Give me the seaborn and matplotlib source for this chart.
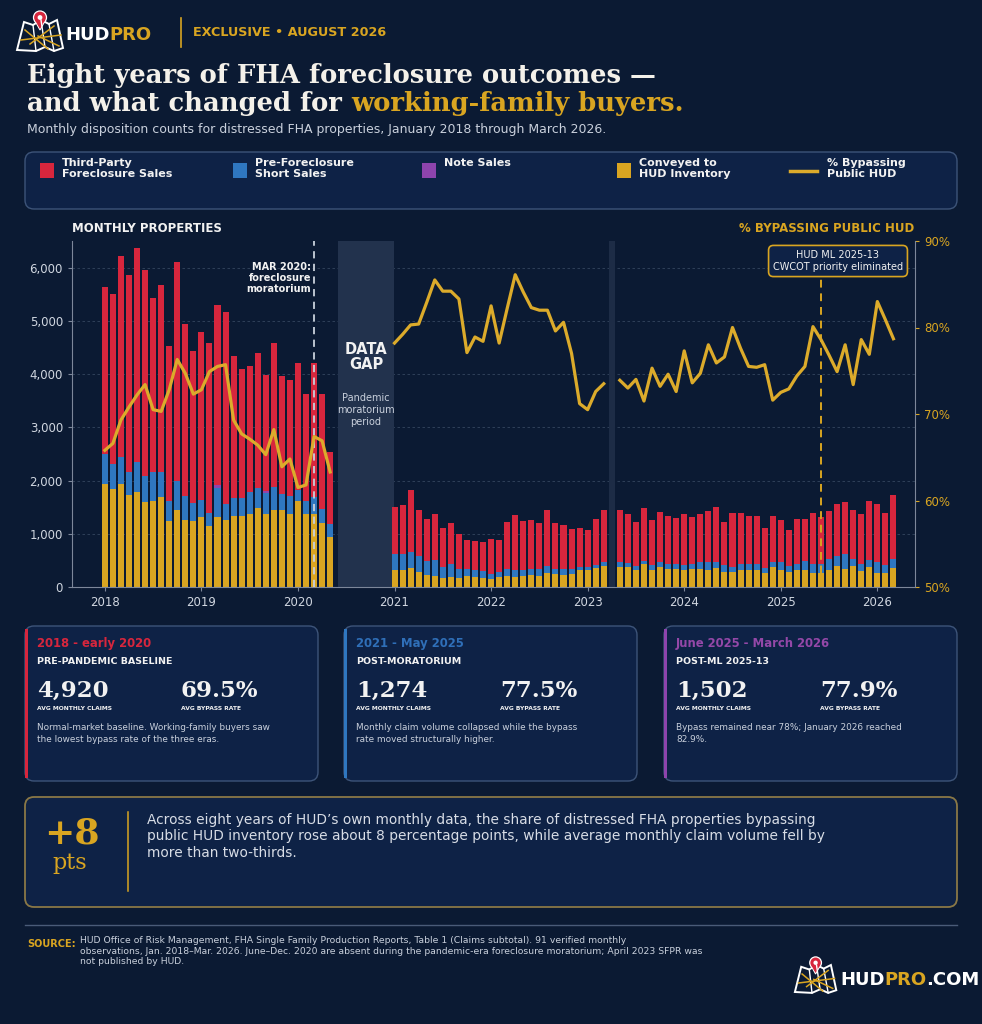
import numpy as np
import pandas as pd
import matplotlib
matplotlib.use("Agg")
import matplotlib.pyplot as plt
import seaborn as sns
from matplotlib.patches import FancyBboxPatch, Rectangle, Polygon, Circle
from matplotlib.lines import Line2D

# months that were published (Jun-Dec 2020 and Apr 2023 missing)
segments = [("2018-01", "2020-05"), ("2021-01", "2023-03"), ("2023-05", "2026-03")]

conveyed = [1940, 1845, 1935, 1720, 1780, 1595, 1615, 1690, 1240, 1450, 1265, 1240, 1310, 1155,
            1310, 1265, 1330, 1330, 1370, 1480, 1380, 1455, 1440, 1380, 1625, 1375, 1375, 1205, 930,
            325, 315, 365, 280, 225, 200, 175, 190, 165, 200, 190, 175, 155, 190, 215, 190, 200,
            225, 215, 265, 240, 225, 250, 315, 315, 350, 390,
            380, 380, 315, 425, 315, 380, 345, 345, 325, 345, 345, 315, 355, 280, 280, 315, 315,
            325, 270, 375, 325, 280, 315, 315, 270, 270, 325, 390, 345, 390, 300, 375, 270, 270, 365]
pre_foreclosure = [560, 470, 515, 435, 565, 485, 540, 465, 375, 550, 440, 335, 325, 230,
                   555, 285, 345, 340, 410, 375, 390, 430, 310, 330, 200, 250, 315, 260, 245,
                   300, 300, 285, 295, 265, 300, 200, 235, 180, 145, 125, 125, 95, 90, 130, 125,
                   115, 120, 130, 125, 105, 120, 80, 60, 55, 55, 80,
                   90, 80, 85, 65, 90, 85, 95, 95, 80, 95, 120, 150, 115, 125, 95, 110, 110,
                   100, 95, 95, 140, 120, 125, 170, 170, 170, 195, 195, 280, 145, 125, 125, 200, 135, 155]
note_sales = [0] * 14 + [60] + [0] * 5 + [30] + [0] * 8 + [0] * 27 + [0] * 35
third_party = [3140, 3185, 3770, 3700, 4020, 3875, 3275, 3515, 2920, 4105, 3240, 2865, 3160, 3205,
               3380, 3625, 2665, 2420, 2375, 2545, 2190, 2700, 2215, 2180, 2375, 1995, 2520, 2160, 1370,
               875, 920, 1175, 865, 795, 875, 740, 775, 655, 530, 550, 550, 655, 595, 870, 1045,
               925, 905, 850, 1060, 860, 820, 755, 730, 695, 880, 980,
               970, 910, 820, 1000, 845, 945, 885, 860, 970, 875, 900, 955, 1030, 825, 1020, 970,
               900, 905, 750, 860, 785, 680, 830, 790, 955, 875, 900, 965, 970, 920, 940, 1115,
               1095, 990, 1205]
bypass_pct = [65.8, 66.6, 69.3, 70.8, 72.2, 73.4, 70.5, 70.3, 72.8, 76.3, 74.7, 72.3, 72.8, 74.9,
              75.5, 75.7, 69.3, 67.7, 67.1, 66.4, 65.3, 68.2, 63.9, 64.8, 61.5, 61.8, 67.4, 66.9, 63.3,
              78.2, 79.2, 80.3, 80.4, 82.9, 85.5, 84.2, 84.2, 83.3, 77.1, 78.9, 78.4, 82.5, 78.2,
              82.2, 86.1, 84.1, 82.3, 82.0, 82.0, 79.6, 80.6, 77.0, 71.2, 70.5, 72.6, 73.5,
              73.9, 73.0, 74.0, 71.5, 75.3, 73.2, 74.6, 72.6, 77.3, 73.6, 74.7, 78.0, 75.9, 76.6,
              80.0, 77.6, 75.5, 75.4, 75.7, 71.6, 72.5, 72.9, 74.4, 75.5, 80.1, 78.6, 76.8, 74.9,
              78.0, 73.4, 78.6, 76.9, 83.0, 80.9, 78.7]

year_ticks = list(range(2018, 2027))
left_ticks = [0, 1000, 2000, 3000, 4000, 5000, 6000]
right_ticks = [50, 60, 70, 80, 90]
moratorium = 2020 + 2 / 12      # Mar 2020
ml_2025_13 = 2025 + 5 / 12      # Jun 2025
gap_2020 = (2020.41, 2020.99)
gap_2023 = (2023.22, 2023.28)

BG = "#0b1a33"
PANEL = "#0e2246"
EDGE = "#3d5479"
RED = "#d7263d"
BLUE = "#2f77c0"
PURPLE = "#8e44ad"
GOLD = "#d9a521"
LINE = "#dcab2b"
WHITE = "#f2f2f2"
LIGHT = "#c9d0dc"
TICK = "#d0d6e0"

plt.rcParams["font.family"] = ["DejaVu Sans"]

rows = []
for seg, (a, b) in enumerate(segments):
    for d in pd.date_range(a, b, freq="MS"):
        rows.append((seg, d))
df = pd.DataFrame(rows, columns=["seg", "date"])
df["x"] = df["date"].dt.year + (df["date"].dt.month - 1) / 12
df["conv"] = conveyed
df["pre"] = df["conv"] + np.array(pre_foreclosure)
df["note"] = df["pre"] + np.array(note_sales)
df["total"] = df["note"] + np.array(third_party)
df["pct"] = bypass_pct

fig = plt.figure(figsize=(9.82, 10.24), dpi=100, facecolor=BG)

# chart
ax = fig.add_axes([72 / 982, (1024 - 587) / 1024, 843 / 982, 346 / 1024])
ax.set_facecolor("none")
for col, c in [("total", RED), ("note", PURPLE), ("pre", BLUE), ("conv", GOLD)]:
    sns.barplot(data=df, x="x", y=col, native_scale=True, width=0.75, color=c,
                saturation=1, errorbar=None, linewidth=0, ax=ax, zorder=2)
ax.axvspan(*gap_2020, color="#22324d", lw=0, zorder=1)
ax.axvspan(*gap_2023, color="#1d2c46", lw=0, zorder=1)
ax.axvline(moratorium, color="#c9d1dc", ls=(0, (4, 3)), lw=1.3, zorder=4)
ax.axvline(ml_2025_13, ymax=(587 - 276) / 346, color=GOLD, ls=(0, (4, 3)), lw=1.4, zorder=4)

ax.set_xlim(2017.66, 2026.39)
ax.set_ylim(0, 6500)
ax.set_xticks(year_ticks)
ax.set_xticklabels([str(y) for y in year_ticks])
ax.set_yticks(left_ticks)
ax.set_yticklabels([f"{v:,}" for v in left_ticks])
ax.yaxis.grid(True, color="#34465f", ls=(0, (3, 3)), lw=0.6)
ax.set_axisbelow(True)
ax.tick_params(colors="#7d879a", labelcolor=TICK, labelsize=8.5, length=3)
ax.set_xlabel("")
ax.set_ylabel("")
for s in ["top", "right"]:
    ax.spines[s].set_visible(False)
for s in ["left", "bottom"]:
    ax.spines[s].set_color("#7d879a")

ax2 = ax.twinx()
sns.lineplot(data=df, x="x", y="pct", units="seg", estimator=None, color=LINE, lw=2.3,
             ax=ax2, legend=False)
ax2.set_ylim(50, 90)
ax2.set_yticks(right_ticks)
ax2.set_yticklabels([f"{v}%" for v in right_ticks])
ax2.tick_params(axis="y", colors=GOLD, labelcolor=GOLD, labelsize=8.5, length=3)
ax2.set_ylabel("")
ax2.set_xlabel("")
for s in ["top", "left", "bottom"]:
    ax2.spines[s].set_visible(False)
ax2.spines["right"].set_color("#7d879a")
ax2.set_xlim(2017.66, 2026.39)

# overlay in pixel coordinates
ov = fig.add_axes([0, 0, 1, 1], zorder=10)
ov.set_xlim(0, 982)
ov.set_ylim(1024, 0)
ov.axis("off")
ov.patch.set_alpha(0)
rend = fig.canvas.get_renderer()


def seq_text(x, y, parts, **kw):
    for s, c in parts:
        t = ov.text(x, y, s, color=c, **kw)
        x += t.get_window_extent(renderer=rend).width


def panel(x, y, w, h, ec=EDGE, lw=1.0):
    ov.add_patch(FancyBboxPatch((x, y), w, h, boxstyle="round,pad=0,rounding_size=9",
                                fc=PANEL, ec=ec, lw=lw))


def logo(x0, y0, s):
    P = lambda pts: [(x0 + a * s, y0 + b * s) for a, b in pts]
    ov.add_patch(Polygon(P([(1, 40), (8, 12), (17, 15), (25, 10), (33, 14), (41, 10),
                             (47, 38), (38, 41), (29, 37), (20, 41)]),
                         closed=True, fc="none", ec="white", lw=1.4))
    for a, b in [((17, 15), (20, 41)), ((25, 10), (29, 37)), ((33, 14), (38, 41))]:
        ov.plot(*zip(*P([a, b])), color="white", lw=1.0)
    for a, b in [((5, 30), (45, 25)), ((9, 20), (32, 39)), ((38, 16), (14, 34)), ((22, 26), (43, 36))]:
        ov.plot(*zip(*P([a, b])), color=GOLD, lw=1.1)
    ov.add_patch(Polygon(P([(18.5, 10), (29.5, 10), (24, 20)]), fc=RED, ec="white", lw=0.8))
    ov.add_patch(Circle((x0 + 24 * s, y0 + 7.5 * s), 6.5 * s, fc=RED, ec="white", lw=0.9))
    ov.add_patch(Polygon(P([(19.2, 10.5), (28.8, 10.5), (24, 18.5)]), fc=RED, ec="none"))
    ov.add_patch(Circle((x0 + 24 * s, y0 + 7.5 * s), 2.4 * s, fc="white", ec="none"))


# header
logo(16, 10, 1.0)
seq_text(65, 35, [("HUD", "white"), ("PRO", GOLD)], fontsize=13, fontweight="bold", va="center")
ov.plot([181, 181], [18, 47], color=GOLD, lw=1.2)
ov.text(193, 33, "EXCLUSIVE • AUGUST 2026", color=GOLD, fontsize=9.2, fontweight="bold", va="center")
ov.text(27, 75, "Eight years of FHA foreclosure outcomes —", color="#f4f1ea", fontsize=18.6,
        fontweight="bold", family="DejaVu Serif", va="center")
seq_text(27, 104, [("and what changed for ", "#f4f1ea"), ("working-family buyers.", GOLD)],
         fontsize=18.6, fontweight="bold", family="DejaVu Serif", va="center")
ov.text(27, 130, "Monthly disposition counts for distressed FHA properties, January 2018 through March 2026.",
        color=LIGHT, fontsize=9.0, va="center")

# legend panel
panel(25, 152, 932, 57)
legend_items = [(40, RED, "Third-Party\nForeclosure Sales"), (233, BLUE, "Pre-Foreclosure\nShort Sales"),
                (422, PURPLE, "Note Sales"), (617, GOLD, "Conveyed to\nHUD Inventory")]
for x, c, lab in legend_items:
    ov.add_patch(Rectangle((x, 163), 14, 15, fc=c, ec="none"))
    ov.text(x + 22, 158, lab, color=WHITE, fontsize=8, fontweight="bold", va="top", linespacing=1.15)
ov.add_line(Line2D([790, 817], [171, 171], color=LINE, lw=2.5))
ov.text(827, 158, "% Bypassing\nPublic HUD", color=WHITE, fontsize=8, fontweight="bold", va="top",
        linespacing=1.15)

# chart labels
ov.text(72, 229, "MONTHLY PROPERTIES", color=WHITE, fontsize=8.5, fontweight="bold", va="center")
ov.text(914, 229, "% BYPASSING PUBLIC HUD", color=GOLD, fontsize=8.5, fontweight="bold",
        va="center", ha="right")
ov.text(311, 278, "MAR 2020:\nforeclosure\nmoratorium", color=WHITE, fontsize=7, fontweight="bold",
        ha="right", va="center", multialignment="right", linespacing=1.1)
ov.text(366, 357, "DATA\nGAP", color=WHITE, fontsize=10.5, fontweight="bold", ha="center",
        va="center", linespacing=1.05)
ov.text(366, 410, "Pandemic\nmoratorium\nperiod", color=LIGHT, fontsize=7, ha="center", va="center",
        linespacing=1.2)
ov.text(838, 261, "HUD ML 2025-13\nCWCOT priority eliminated", color=WHITE, fontsize=7, ha="center",
        va="center", linespacing=1.3,
        bbox=dict(boxstyle="round,pad=0.45,rounding_size=0.5", fc=PANEL, ec=GOLD, lw=1.2))

# era cards
cards = [
    (25, RED, RED, "2018 - early 2020", "PRE-PANDEMIC BASELINE", "4,920", "69.5%",
     "Normal-market baseline. Working-family buyers saw\nthe lowest bypass rate of the three eras."),
    (344, BLUE, "#2f6fb8", "2021 - May 2025", "POST-MORATORIUM", "1,274", "77.5%",
     "Monthly claim volume collapsed while the bypass\nrate moved structurally higher."),
    (664, PURPLE, "#9448a8", "June 2025 - March 2026", "POST-ML 2025-13", "1,502", "77.9%",
     "Bypass remained near 78%; January 2026 reached\n82.9%."),
]
for x, acc, tc, title, sub, big1, big2, desc in cards:
    panel(x, 626, 293, 155)
    ov.add_patch(Rectangle((x + 0.5, 629), 3, 149, fc=acc, ec="none"))
    ov.text(x + 12, 644, title, color=tc, fontsize=8.4, fontweight="bold", va="center")
    ov.text(x + 12, 662, sub, color=WHITE, fontsize=6.8, fontweight="bold", va="center")
    ov.text(x + 12, 691, big1, color=WHITE, fontsize=16.5, fontweight="bold", family="DejaVu Serif",
            va="center")
    ov.text(x + 156, 691, big2, color=WHITE, fontsize=16.5, fontweight="bold", family="DejaVu Serif",
            va="center")
    ov.text(x + 12, 709, "AVG MONTHLY CLAIMS", color=WHITE, fontsize=4.3, fontweight="bold", va="center")
    ov.text(x + 156, 709, "AVG BYPASS RATE", color=WHITE, fontsize=4.3, fontweight="bold", va="center")
    ov.text(x + 12, 723, desc, color=LIGHT, fontsize=6.4, va="top", linespacing=1.4)

# callout
panel(25, 797, 932, 110, ec="#8a7846", lw=1.3)
ov.text(72, 834, "+8", color=GOLD, fontsize=26, fontweight="bold", family="DejaVu Serif",
        ha="center", va="center")
ov.text(70, 863, "pts", color=GOLD, fontsize=16, family="DejaVu Serif", ha="center", va="center")
ov.plot([128, 128], [812, 891], color=GOLD, lw=1.1)
ov.text(147, 813, "Across eight years of HUD’s own monthly data, the share of distressed FHA properties bypassing\n"
        "public HUD inventory rose about 8 percentage points, while average monthly claim volume fell by\n"
        "more than two-thirds.", color="#d8dde6", fontsize=9.9, va="top", linespacing=1.22)

# source
ov.plot([25, 957], [925, 925], color="#4a5b78", lw=1)
ov.text(27, 944, "SOURCE:", color=GOLD, fontsize=7, fontweight="bold", va="center")
ov.text(80, 936, "HUD Office of Risk Management, FHA Single Family Production Reports, Table 1 (Claims subtotal). 91 verified monthly\n"
        "observations, Jan. 2018–Mar. 2026. June–Dec. 2020 are absent during the pandemic-era foreclosure moratorium; April 2023 SFPR was\n"
        "not published by HUD.", color=LIGHT, fontsize=6.7, va="top", linespacing=1.25)

logo(794, 956, 0.9)
seq_text(840, 980, [("HUD", "white"), ("PRO", GOLD), (".COM", "white")], fontsize=13,
         fontweight="bold", va="center")

fig.savefig("out.png", dpi=100, facecolor=BG)
